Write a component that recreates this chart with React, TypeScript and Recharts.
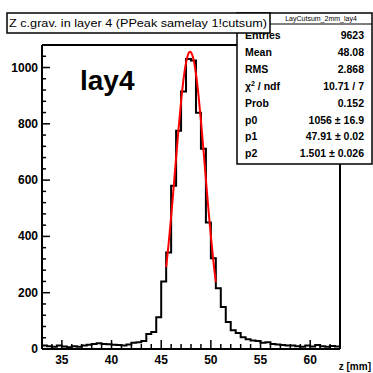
import React from 'react';
import { ComposedChart, Line, XAxis, YAxis } from 'recharts';

// Histogram binning (low edge of first bin and bin width)
const HIST_LOW = 33;
const HIST_HIGH = 63;
const BIN_WIDTH = 0.5;

// Bin contents, bins from 33.0 to 63.0 in steps of 0.5
const leftTailCounts = [12, 10, 8, 12, 9, 6, 10, 8, 12, 15, 18, 20, 18, 17, 15, 14, 12, 16, 22, 24, 28];
const coreCounts = [53, 60, 113, 240, 343, 580, 775, 915, 1030, 1025, 839, 711, 449, 322, 216, 149, 96, 67, 57, 42];
const rightTailCounts = [35, 30, 28, 22, 24, 18, 16, 14, 12, 12, 10, 8, 12, 9, 14, 10, 8, 11, 9];

// Red fit curve points
const fitX = [45.5, 45.75, 46.0, 46.25, 46.5, 46.75, 47.0, 47.25, 47.5, 47.75, 47.91, 48.0, 48.25, 48.5, 48.75, 49.0, 49.25, 49.5, 49.75, 50.0, 50.25, 50.5];
const fitY = [291, 375, 470, 573, 679, 783, 879, 959, 1017, 1050, 1056, 1054, 1029, 977, 903, 811, 709, 603, 498, 401, 313, 238];

// Axis ticks
const xTicks = [34, 35, 36, 37, 38, 39, 40, 41, 42, 43, 44, 45, 46, 47, 48, 49, 50, 51, 52, 53, 54, 55, 56, 57, 58, 59, 60, 61, 62, 63];
const xMajor = [35, 40, 45, 50, 55, 60];
const yTicks = [0, 40, 80, 120, 160, 200, 240, 280, 320, 360, 400, 440, 480, 520, 560, 600, 640, 680, 720, 760, 800, 840, 880, 920, 960, 1000, 1040];
const yMajor = [0, 200, 400, 600, 800, 1000];
const Y_MAX = 1080;

// Stats box text
const titleText = 'Z c.grav. in layer 4 (PPeak samelay 1!cutsum)';
const statsName = 'LayCutsum_2mm_lay4';
const statsLabels = ['Entries', 'Mean', 'RMS', 'CHI', 'Prob', 'p0', 'p1', 'p2'];
const statsValues = ['9623', '48.08', '2.868', '10.71 / 7', '0.152', '1056 \u00b1 16.9', '47.91 \u00b1 0.02', '1.501 \u00b1 0.026'];

const allCounts = [...leftTailCounts, ...coreCounts, ...rightTailCounts];
const histData = allCounts.map((c, i) => ({ x: HIST_LOW + i * BIN_WIDTH, y: c }));
histData.push({ x: HIST_HIGH, y: allCounts[allCounts.length - 1] });
const fitData = fitX.map((x, i) => ({ x, y: fitY[i] }));

const FONT = 'Liberation Sans, Arial, Helvetica, sans-serif';

const XTick = (props: any) => {
  const { x, y, payload } = props;
  const v = payload.value;
  const major = xMajor.includes(v);
  return (
    <g>
      <line x1={x} x2={x} y1={y} y2={y - (major ? 9 : 5)} stroke="#000" strokeWidth={1.5} />
      {major && (
        <text x={x} y={y + 15} textAnchor="middle" fontFamily={FONT} fontWeight="bold" fontSize={12} fill="#000">
          {v}
        </text>
      )}
    </g>
  );
};

const YTick = (props: any) => {
  const { x, y, payload } = props;
  const v = payload.value;
  const major = yMajor.includes(v);
  return (
    <g>
      <line x1={x} x2={x + (major ? 8 : 4)} y1={y} y2={y} stroke="#000" strokeWidth={1.5} />
      {major && (
        <text x={x - 4} y={y + 4} textAnchor="end" fontFamily={FONT} fontWeight="bold" fontSize={12} fill="#000">
          {v}
        </text>
      )}
    </g>
  );
};

export default function App() {
  return (
    <div style={{ position: 'absolute', left: 0, top: 0, width: 373, height: 373, background: '#fff', overflow: 'hidden' }}>
      <ComposedChart width={373} height={373} margin={{ top: 45, right: 33, bottom: 0, left: 0 }}>
        <XAxis
          type="number"
          dataKey="x"
          domain={[HIST_LOW, HIST_HIGH]}
          ticks={xTicks}
          interval={0}
          height={24}
          tickSize={0}
          tickMargin={0}
          tickLine={false}
          axisLine={{ stroke: '#000', strokeWidth: 2 }}
          tick={XTick}
          allowDataOverflow
        />
        <YAxis
          type="number"
          domain={[0, Y_MAX]}
          ticks={yTicks}
          interval={0}
          width={42}
          tickSize={0}
          tickMargin={0}
          tickLine={false}
          axisLine={{ stroke: '#000', strokeWidth: 2 }}
          tick={YTick}
          allowDataOverflow
        />
        <Line data={histData} dataKey="y" type="stepAfter" stroke="#000" strokeWidth={2} dot={false} isAnimationActive={false} />
        <Line data={fitData} dataKey="y" type="monotone" stroke="#ff0000" strokeWidth={2} dot={false} isAnimationActive={false} />
      </ComposedChart>
      <svg width={373} height={373} style={{ position: 'absolute', left: 0, top: 0, pointerEvents: 'none' }}>
        <line x1={42} y1={45} x2={340} y2={45} stroke="#000" strokeWidth={2} />
        <line x1={340} y1={45} x2={340} y2={349} stroke="#000" strokeWidth={2} />
        <text x={80} y={90} fontFamily={FONT} fontWeight="bold" fontSize={28} fill="#000">lay4</text>
        <text x={371} y={370} textAnchor="end" fontFamily={FONT} fontWeight="bold" fontSize={10} fill="#000">z [mm]</text>
        {/* stats box */}
        <rect x={237} y={13} width={135} height={151} fill="#fff" stroke="#000" strokeWidth={1.5} />
        <line x1={270} y1={24} x2={372} y2={24} stroke="#000" strokeWidth={1} />
        <text x={321} y={21} textAnchor="middle" fontFamily={FONT} fontSize={7} fill="#000">{statsName}</text>
        {statsLabels.map((lab, i) => {
          const yy = 39 + i * 16.9;
          return (
            <g key={lab}>
              <text x={245} y={yy} fontFamily={FONT} fontWeight="bold" fontSize={10.5} fill="#000">
                {lab === 'CHI' ? (
                  <>
                    {'\u03c7'}
                    <tspan dy={-4} fontSize={7}>2</tspan>
                    <tspan dy={4}>{' / ndf'}</tspan>
                  </>
                ) : (
                  lab
                )}
              </text>
              <text x={364} y={yy} textAnchor="end" fontFamily={FONT} fontWeight="bold" fontSize={10.5} fill="#000">
                {statsValues[i]}
              </text>
            </g>
          );
        })}
        {/* title box */}
        <rect x={7} y={13} width={263} height={20} fill="#fff" stroke="#000" strokeWidth={1.5} />
        <text x={9} y={27} fontFamily={FONT} fontSize={11.5} textLength={258} lengthAdjust="spacingAndGlyphs" fill="#000">
          {titleText}
        </text>
      </svg>
    </div>
  );
}
